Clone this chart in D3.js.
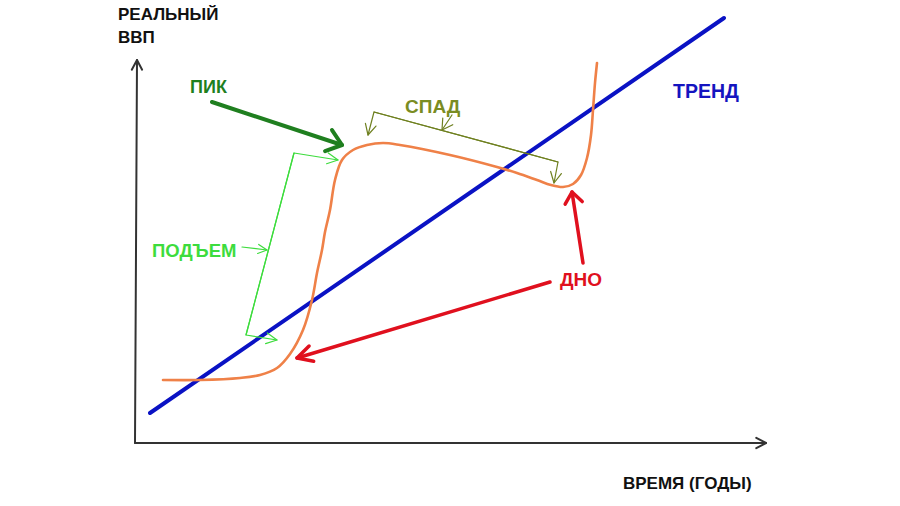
<!DOCTYPE html>
<html>
<head>
<meta charset="utf-8">
<script src="https://cdn.jsdelivr.net/npm/d3@7"></script>
<style>
  html, body { margin: 0; padding: 0; background: #fff; }
  svg { display: block; }
  text { font-family: "Liberation Sans", Arial, sans-serif; font-weight: bold; }
</style>
</head>
<body>
<svg id="chart" width="900" height="506"></svg>
<script>
// ---- data (units: time along x, real GDP along y) ----
const cycleTime = [28, 65, 105, 125, 142, 155, 168, 177, 182, 187, 190, 195, 200, 207, 218, 232, 248, 265, 315, 362, 382, 402, 416, 428, 438, 446, 452, 456, 458, 460, 462];
const cycleGDP  = [63, 63, 65, 68, 75, 89, 113, 143, 170, 193, 211, 233, 263, 283, 293, 298, 300, 298, 288, 276, 270, 263, 258, 256, 259, 268, 285, 308, 333, 360, 380];
const trendTime = [15, 589];
const trendGDP  = [30, 425];
const axisLabels = { y: ["РЕАЛЬНЫЙ", "ВВП"], x: "ВРЕМЯ (ГОДЫ)" };
const phaseLabels = ["ПИК", "ПОДЪЕМ", "СПАД", "ДНО", "ТРЕНД"];

const svg = d3.select("#chart");
const x = d3.scaleLinear().domain([0, 630]).range([135, 765]);
const y = d3.scaleLinear().domain([0, 385]).range([443, 58]);

const axisColor = "#333";
function arrowHead(g, x1, y1, x2, y2, len, ang, color, width) {
  const a = Math.atan2(y1 - y2, x1 - x2);
  const pts = [a + ang, a - ang].map(t => [x2 + len * Math.cos(t), y2 + len * Math.sin(t)]);
  g.append("path")
    .attr("d", `M${pts[0][0]},${pts[0][1]}L${x2},${y2}L${pts[1][0]},${pts[1][1]}`)
    .attr("fill", "none").attr("stroke", color).attr("stroke-width", width)
    .attr("stroke-linecap", "round").attr("stroke-linejoin", "round");
}
function arrow(pointsData, color, width, len, angDeg) {
  const pts = pointsData.map(p => [x(p[0]), y(p[1])]);
  const g = svg.append("g");
  g.append("path").attr("d", d3.line()(pts))
    .attr("fill", "none").attr("stroke", color).attr("stroke-width", width)
    .attr("stroke-linecap", "round").attr("stroke-linejoin", "round");
  const n = pts.length;
  arrowHead(g, pts[n-2][0], pts[n-2][1], pts[n-1][0], pts[n-1][1], len, angDeg * Math.PI / 180, color, width);
  return g;
}

// axes
arrow([[0, 0], [2, 383]], axisColor, 2, 11, 28);
arrow([[0, 0], [631, 0]], axisColor, 2, 11, 28);

// trend line
const line = d3.line().x(d => x(d[0])).y(d => y(d[1]));
svg.append("path")
  .datum(d3.zip(trendTime, trendGDP))
  .attr("d", line)
  .attr("fill", "none").attr("stroke", "#0a12c4").attr("stroke-width", 4).attr("stroke-linecap", "round");

// business cycle curve
svg.append("path")
  .datum(d3.zip(cycleTime, cycleGDP))
  .attr("d", d3.line().x(d => x(d[0])).y(d => y(d[1])).curve(d3.curveCatmullRom.alpha(0.5)))
  .attr("fill", "none").attr("stroke", "#ef8148").attr("stroke-width", 2.6).attr("stroke-linecap", "round");

// ---- annotations ----
const green = "#1f7f1f", light = "#3ddc3d", olive = "#6f8020", red = "#e0101e", blue = "#1414c0";

// ПИК
svg.append("text").attr("x", x(55)).attr("y", y(350)).attr("fill", green).attr("font-size", 18).text(phaseLabels[0]);
arrow([[77, 341], [207, 298]], green, 4, 18, 38);

// ПОДЪЕМ bracket
svg.append("text").attr("x", x(17)).attr("y", y(186)).attr("fill", light).attr("font-size", 18.5).text(phaseLabels[1]);
arrow([[111, 108], [159, 290], [203, 283]], light, 1.2, 12, 27);
arrow([[159, 290], [111, 108], [142, 103]], light, 1.2, 12, 27);
arrow([[107, 196], [132, 193]], light, 1.2, 10, 27);

// СПАД bracket
svg.append("text").attr("x", x(270)).attr("y", y(330)).attr("fill", "#7a8c22").attr("font-size", 19).text(phaseLabels[2]);
arrow([[423, 281], [239, 331], [233, 308]], olive, 1.2, 12, 27);
arrow([[239, 331], [423, 281], [419, 260]], olive, 1.2, 12, 27);
arrow([[317, 328], [307, 313]], olive, 1.2, 12, 30);

// ДНО
svg.append("text").attr("x", x(425)).attr("y", y(157)).attr("fill", red).attr("font-size", 19).text(phaseLabels[3]);
arrow([[415, 161], [162, 85]], red, 3.5, 17, 28);
arrow([[448, 180], [437, 251]], red, 3.5, 14, 38);

// ТРЕНД
svg.append("text").attr("x", x(538)).attr("y", y(345)).attr("fill", blue).attr("font-size", 19.5).text(phaseLabels[4]);

// axis titles
svg.append("text").attr("x", x(-17)).attr("y", y(423)).attr("fill", "#111").attr("font-size", 17).text(axisLabels.y[0]);
svg.append("text").attr("x", x(-17)).attr("y", y(400)).attr("fill", "#111").attr("font-size", 17).text(axisLabels.y[1]);
svg.append("text").attr("x", x(488)).attr("y", y(-46)).attr("fill", "#111").attr("font-size", 17).text(axisLabels.x);
</script>
</body>
</html>
